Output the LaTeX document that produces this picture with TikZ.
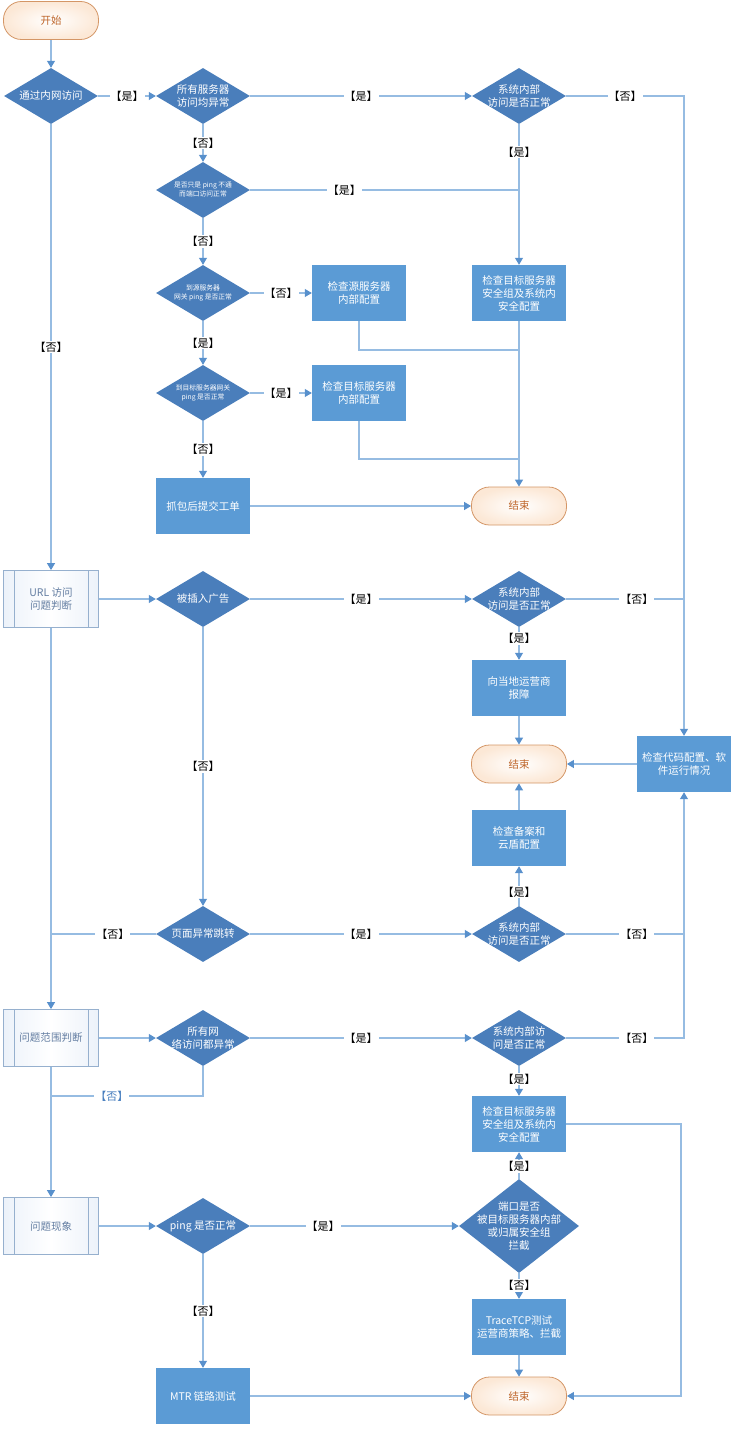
\documentclass[tikz,border=0pt]{standalone}
\usepackage{fontspec}
\setmainfont{Noto Sans CJK SC}
\usetikzlibrary{shapes.geometric,arrows.meta}
\definecolor{diafill}{RGB}{74,126,187}
\definecolor{boxfill}{RGB}{91,155,213}
\definecolor{linec}{RGB}{150,188,226}
\definecolor{arrc}{RGB}{88,144,204}
\definecolor{termdraw}{RGB}{212,150,102}
\definecolor{termfill}{RGB}{252,232,214}
\definecolor{termtext}{RGB}{190,100,40}
\definecolor{predraw}{RGB}{150,176,206}
\definecolor{prefill}{RGB}{236,242,250}
\definecolor{pretext}{RGB}{100,126,162}
\definecolor{lblblue}{RGB}{70,125,190}
\newcommand\Dia[3]{\node[dia] (#1) at (#2) {}; \node[dtext] (#1t) at (#1) {#3};}
\newcommand\DiaS[3]{\node[dia] (#1) at (#2) {}; \node[dtext,font=\fontsize{6.8}{9}\selectfont] (#1t) at (#1) {#3};}
\newcommand\PreLines[1]{\draw[predraw,line width=0.8pt] ([xshift=11pt]#1.north west) -- ([xshift=11pt]#1.south west);
  \draw[predraw,line width=0.8pt] ([xshift=-11pt]#1.north east) -- ([xshift=-11pt]#1.south east);}
\begin{document}
\begin{tikzpicture}[x=1pt,y=-1pt,
  line/.style={draw=linec, line width=1.1pt},
  arr/.style={-{Triangle[length=7pt,width=8pt,color=arrc]}},
  term/.style={draw=termdraw, line width=0.8pt, rounded corners=18pt, minimum width=95pt, minimum height=38pt, inner color=white, outer color=termfill, text=termtext, font=\fontsize{10.5}{12}\selectfont},
  dia/.style={diamond, fill=diafill, minimum width=94pt, minimum height=56pt, inner sep=0pt},
  dtext/.style={text=white, align=center, inner sep=0pt, font=\fontsize{10.5}{13}\selectfont},
  box/.style={rectangle, fill=boxfill, minimum width=94pt, minimum height=56pt, text=white, align=center, inner sep=2pt, font=\fontsize{10.5}{13}\selectfont},
  pre/.style={rectangle, draw=predraw, line width=0.8pt, left color=prefill, right color=prefill, middle color=white, minimum width=95pt, minimum height=57pt, text=pretext, align=center, font=\fontsize{10.5}{13}\selectfont},
  lbl/.style={fill=white, inner sep=1pt, text=black, font=\fontsize{11}{12}\selectfont}
]
\useasboundingbox (0,0) rectangle (738,1434);

% terminals
\node[term] (start) at (51,20.5) {开始};
\node[term] (end1) at (519,506) {结束};
\node[term] (end2) at (519,764) {结束};
\node[term] (end3) at (519,1396) {结束};

% decisions
\Dia{d1}{51,96}{通过内网访问}
\Dia{d2}{203,96}{所有服务器\\访问均异常}
\Dia{s1}{519,96}{系统内部\\访问是否正常}
\DiaS{d3}{203,190}{是否只是 ping 不通\\而端口访问正常}
\DiaS{d4}{203,293}{到源服务器\\网关 ping 是否正常}
\DiaS{d5}{203,393}{到目标服务器网关\\ping 是否正常}
\Dia{ad}{203,599}{被插入广告}
\Dia{s2}{519,599}{系统内部\\访问是否正常}
\Dia{jump}{203,934}{页面异常跳转}
\Dia{s3}{519,934}{系统内部\\访问是否正常}
\Dia{net}{203,1038}{所有网\\络访问都异常}
\Dia{s4}{519,1038}{系统内部访\\问是否正常}
\Dia{ping}{203,1226}{ping 是否正常}
\node[dia, minimum width=120pt, minimum height=94pt] (port) at (519,1226) {};
\node[dtext] (portt) at (port) {端口是否\\被目标服务器内部\\或归属安全组\\拦截};

% process boxes
\node[box] (chk1) at (519,293) {检查目标服务器\\安全组及系统内\\安全配置};
\node[box] (src) at (359,293) {检查源服务器\\内部配置};
\node[box] (dst) at (359,393) {检查目标服务器\\内部配置};
\node[box] (cap) at (203,506) {抓包后提交工单};
\node[box] (isp) at (519,688) {向当地运营商\\报障};
\node[box] (code) at (684,764) {检查代码配置、软\\件运行情况};
\node[box] (beian) at (519,838) {检查备案和\\云盾配置};
\node[box] (chk2) at (519,1124) {检查目标服务器\\安全组及系统内\\安全配置};
\node[box] (trace) at (519,1327) {TraceTCP测试\\运营商策略、拦截};
\node[box] (mtr) at (203,1396) {MTR 链路测试};

% predefined processes
\node[pre] (url) at (51,599) {URL 访问\\问题判断};
\node[pre] (scope) at (51,1038) {问题范围判断};
\node[pre] (phen) at (51,1226) {问题现象};
\PreLines{url}
\PreLines{scope}
\PreLines{phen}

% junctions
\coordinate (j1) at (519,350);
\coordinate (j2) at (519,459);
\coordinate (j3) at (51,1096);
\coordinate (j4) at (681,1122);

% connectors
\draw[line,arr] (start.south) -- (d1.north);
\draw[line,arr] (d1.east) -- node[lbl](l2){【是】} (d2.west);
\draw[line,arr] (d2.east) -- node[lbl](l3){【是】} (s1.west);
\draw[line,arr] (s1.east) -- node[lbl](l4){【否】} (s1.east -| code.north) -- (code.north);
\draw[line,arr] (s1.south) -- node[lbl,pos=0.2](l5){【是】} (chk1.north);
\draw[line,arr] (d2.south) -- node[lbl](l6){【否】} (d3.north);
\draw[line] (d3.east) -- node[lbl,pos=0.35](l7){【是】} (d3.east -| chk1.north);
\draw[line,arr] (d3.south) -- node[lbl](l8){【否】} (d4.north);
\draw[line,arr] (d4.east) -- node[lbl](l9){【否】} (src.west);
\draw[line,arr] (d4.south) -- node[lbl](l10){【是】} (d5.north);
\draw[line,arr] (d5.east) -- node[lbl](l11){【是】} (dst.west);
\draw[line,arr] (d5.south) -- node[lbl](l12){【否】} (cap.north);
\draw[line,arr] (cap.east) -- (end1.west);
\draw[line] (src.south) |- (j1);
\draw[line] (dst.south) |- (j2);
\draw[line,arr] (chk1.south) -- (end1.north);

\draw[line,arr] (d1.south) -- node[lbl](l17){【否】} (url.north);
\draw[line,arr] (url.east) -- (ad.west);
\draw[line,arr] (ad.east) -- node[lbl](l19){【是】} (s2.west);
\draw[line] (s2.east) -- node[lbl,pos=0.6](l20){【否】} (s2.east -| code.north);
\draw[line,arr] (s2.south) -- node[lbl,pos=0.35](l21){【是】} (isp.north);
\draw[line,arr] (isp.south) -- (end2.north);
\draw[line,arr] (code.west) -- (end2.east);
\draw[line,arr] (beian.north) -- (end2.south);
\draw[line,arr] (ad.south) -- node[lbl](l25){【否】} (jump.north);
\draw[line,arr] (jump.east) -- node[lbl](l26){【是】} (s3.west);
\draw[line,arr] (s3.north) -- node[lbl,pos=0.35](l27){【是】} (beian.south);
\draw[line,arr] (s3.east) -- node[lbl,pos=0.6](l28){【否】} (s3.east -| code.south) -- (code.south);
\draw[line] (jump.west) -- node[lbl,pos=0.41](l29){【否】} (jump.west -| url.south);

\draw[line,arr] (url.south) -- (scope.north);
\draw[line,arr] (scope.east) -- (net.west);
\draw[line,arr] (net.east) -- node[lbl](l32){【是】} (s4.west);
\draw[line] (s4.east) -- node[lbl,pos=0.6](l33){【否】} (s4.east -| code.south) -- (s3.east -| code.south);
\draw[line,arr] (s4.south) -- node[lbl,pos=0.43](l34){【是】} (chk2.north);
\draw[line,arr] (chk2.east) -- (chk2.east -| j4) |- (end3.east);
\draw[line] (net.south) |- node[lbl,pos=0.8,text=lblblue](l36){【否】} (j3);

\draw[line,arr] (scope.south) -- (phen.north);
\draw[line,arr] (phen.east) -- (ping.west);
\draw[line,arr] (ping.east) -- node[lbl,pos=0.35](l39){【是】} (port.west);
\draw[line,arr] (port.north) -- node[lbl,pos=0.46](l40){【是】} (chk2.south);
\draw[line,arr] (port.south) -- node[lbl,pos=0.48](l41){【否】} (trace.north);
\draw[line,arr] (trace.south) -- (end3.north);
\draw[line,arr] (ping.south) -- node[lbl](l43){【否】} (mtr.north);
\draw[line,arr] (mtr.east) -- (end3.west);
\end{tikzpicture}
\end{document}
